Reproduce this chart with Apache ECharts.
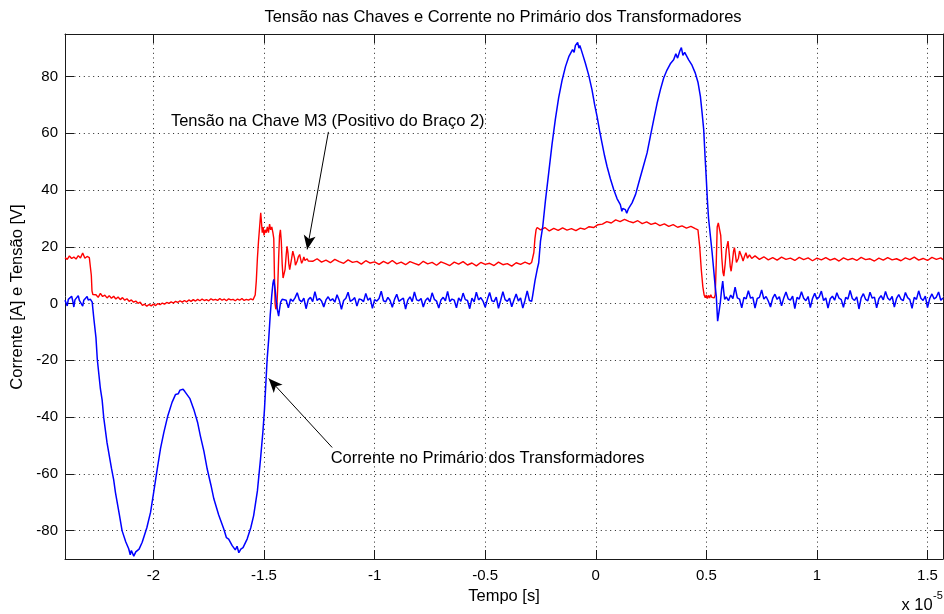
<!DOCTYPE html>
<html>
<head>
<meta charset="utf-8">
<script src="https://cdn.jsdelivr.net/npm/echarts@6/dist/echarts.min.js"></script>
<style>
  html, body { margin: 0; padding: 0; background: #fff; }
  #chart { width: 944px; height: 614px; }
</style>
</head>
<body>
<div id="chart"></div>
<script>
// Time axis in units of 1e-5 s
const xTicks = [-2, -1.5, -1, -0.5, 0, 0.5, 1, 1.5];
const yTicks = [-80, -60, -40, -20, 0, 20, 40, 60, 80];

// Tensão na chave M3 [V] : [t, v]
const tensao = [
  [-2.40,16.2],[-2.39,15.6],[-2.38,16.8],[-2.37,15.9],[-2.36,16.4],[-2.35,15.7],[-2.34,16.9],[-2.33,16.1],
  [-2.32,17.8],[-2.31,16.0],[-2.30,16.6],[-2.29,16.2],[-2.285,15.8],[-2.281,10],[-2.278,4.5],[-2.274,3.2],
  [-2.26,3.1],[-2.25,2.2],[-2.24,3.6],[-2.23,2.5],[-2.22,3.0],[-2.21,2.0],[-2.20,2.8],[-2.19,1.9],
  [-2.18,2.6],[-2.17,1.6],[-2.16,2.3],[-2.15,1.4],[-2.14,2.1],[-2.13,1.2],[-2.12,1.7],[-2.11,0.8],
  [-2.10,1.3],[-2.09,0.5],[-2.08,0.9],[-2.07,0.1],[-2.06,0.5],[-2.05,-0.6],[-2.04,-0.2],[-2.03,-0.9],
  [-2.02,-0.3],[-2.01,-0.8],[-2.00,-0.2],[-1.99,-0.7],[-1.98,0.0],[-1.97,-0.4],[-1.96,0.2],[-1.95,-0.2],
  [-1.94,0.4],[-1.93,0.1],[-1.92,0.6],[-1.91,0.2],[-1.90,0.8],[-1.89,0.4],[-1.88,1.0],[-1.87,0.5],
  [-1.86,1.1],[-1.85,0.6],[-1.84,1.3],[-1.83,0.8],[-1.82,1.4],[-1.81,0.9],[-1.80,1.5],[-1.79,1.0],
  [-1.78,1.6],[-1.77,1.1],[-1.76,1.4],[-1.75,1.0],[-1.74,1.7],[-1.73,1.2],[-1.72,1.5],[-1.71,1.1],
  [-1.70,1.8],[-1.69,1.2],[-1.68,1.6],[-1.67,1.0],[-1.66,1.7],[-1.65,1.3],[-1.64,1.5],[-1.63,1.0],
  [-1.62,1.6],[-1.61,1.2],[-1.60,1.8],[-1.59,1.1],[-1.58,1.5],[-1.57,1.2],[-1.56,1.7],[-1.55,1.3],
  [-1.545,2.0],[-1.54,3],[-1.535,8],[-1.53,16],[-1.525,22],[-1.52,27],[-1.515,32],[-1.512,29],
  [-1.508,25],[-1.504,27],[-1.50,24],[-1.495,26],[-1.49,25],[-1.485,27],[-1.48,25],[-1.475,28],
  [-1.47,26],[-1.465,27],[-1.46,25],[-1.456,23],[-1.453,10],[-1.45,0],[-1.447,-2],[-1.442,-1],
  [-1.438,6],[-1.434,16],[-1.43,24],[-1.426,26],[-1.422,22],[-1.418,14],[-1.414,9],[-1.41,8.5],
  [-1.405,12],[-1.40,17],[-1.396,20.2],[-1.392,18],[-1.388,14],[-1.384,12],[-1.38,12.5],[-1.375,16],
  [-1.37,18.5],[-1.366,19],[-1.362,16],[-1.358,13.5],[-1.354,13.2],[-1.35,15],[-1.345,16.5],[-1.339,17.3],
  [-1.334,15.5],[-1.33,14.2],[-1.325,15.1],[-1.32,16.4],[-1.315,15.2],[-1.31,14.6],[-1.305,15.8],[-1.30,15.0],
  [-1.28,14.9],[-1.26,15.8],[-1.24,14.6],[-1.22,15.3],[-1.20,14.4],[-1.18,15.6],[-1.16,14.8],[-1.14,14.2],
  [-1.12,15.4],[-1.10,14.5],[-1.08,14.9],[-1.06,13.9],[-1.04,15.1],[-1.02,14.3],[-1.00,14.7],[-0.98,13.8],
  [-0.96,14.9],[-0.94,14.1],[-0.92,15.2],[-0.90,14.0],[-0.88,14.6],[-0.86,13.7],[-0.84,14.8],[-0.82,14.2],
  [-0.80,13.6],[-0.78,14.9],[-0.76,14.0],[-0.74,14.5],[-0.72,13.5],[-0.70,14.7],[-0.68,14.1],[-0.66,13.4],
  [-0.64,14.6],[-0.62,13.9],[-0.60,14.8],[-0.58,13.6],[-0.56,14.3],[-0.54,13.3],[-0.52,14.5],[-0.50,13.8],
  [-0.48,14.2],[-0.46,13.4],[-0.44,14.6],[-0.42,13.7],[-0.40,14.1],[-0.38,13.2],[-0.36,14.4],[-0.34,13.8],
  [-0.32,14.6],[-0.30,13.9],[-0.29,14.5],[-0.285,14.8],[-0.28,18],[-0.275,23],[-0.27,26],[-0.265,26.8],
  [-0.25,26.0],[-0.23,26.8],[-0.21,25.6],[-0.19,26.5],[-0.17,25.8],[-0.15,26.7],[-0.13,25.9],[-0.11,26.4],
  [-0.09,25.7],[-0.07,26.6],[-0.05,26.2],[-0.03,27.1],[-0.01,26.8],[0.01,27.8],[0.03,28.0],[0.05,28.9],
  [0.07,28.4],[0.09,29.5],[0.11,28.9],[0.13,29.7],[0.15,29.0],[0.17,28.5],[0.19,29.2],[0.21,28.2],
  [0.23,28.8],[0.25,27.9],[0.27,28.4],[0.29,27.5],[0.31,28.1],[0.33,27.2],[0.35,27.8],[0.37,26.9],
  [0.39,27.4],[0.41,26.6],[0.43,27.2],[0.45,26.4],[0.462,26.0],[0.47,20],[0.477,12],[0.484,6],
  [0.49,3],[0.495,2.1],[0.50,3.0],[0.505,1.8],[0.51,2.9],[0.515,2.0],[0.52,3.1],[0.525,2.2],
  [0.53,2.8],[0.535,2.0],[0.54,3.0],[0.545,15],[0.549,27],[0.554,28.4],[0.56,28],[0.565,24],
  [0.57,16],[0.575,11],[0.579,9.7],[0.585,14],[0.59,19],[0.598,22],[0.604,17],[0.608,13],
  [0.612,11.4],[0.618,15],[0.623,18.5],[0.627,19.7],[0.632,17],[0.636,14.5],[0.639,13.8],[0.645,16],
  [0.65,18.5],[0.654,19],[0.66,16.5],[0.666,15],[0.672,16.5],[0.679,17.9],[0.686,16.0],[0.695,17.2],
  [0.705,15.9],[0.72,16.8],[0.74,15.6],[0.76,16.5],[0.78,15.4],[0.80,16.2],[0.82,15.3],[0.84,16.4],
  [0.86,15.6],[0.88,16.0],[0.90,15.2],[0.92,16.3],[0.94,15.5],[0.96,16.1],[0.98,15.1],[1.00,16.0],
  [1.02,15.4],[1.04,16.2],[1.06,15.3],[1.08,15.9],[1.10,15.0],[1.12,16.1],[1.14,15.4],[1.16,15.9],
  [1.18,15.2],[1.20,16.3],[1.22,15.5],[1.24,15.8],[1.26,15.0],[1.28,16.0],[1.30,15.3],[1.32,16.2],
  [1.34,15.4],[1.36,15.8],[1.38,15.1],[1.40,16.1],[1.42,15.5],[1.44,16.4],[1.46,15.3],[1.48,15.9],
  [1.50,15.2],[1.52,16.3],[1.54,15.6],[1.56,16.1],[1.57,15.5]
];

// Corrente no primário [A] : [t, i]
const corrente = [
  [-2.40,1.2],[-2.39,-0.8],[-2.385,1.5],[-2.38,1.1],[-2.37,2.6],[-2.365,1.0],[-2.36,-1.2],[-2.355,1.3],
  [-2.35,1.2],[-2.34,2.8],[-2.335,1.1],[-2.33,1.4],[-2.32,-0.9],[-2.315,1.2],[-2.31,1.0],[-2.30,2.5],
  [-2.295,1.3],[-2.29,1.1],[-2.285,1.5],[-2.28,1.2],[-2.277,0.5],[-2.27,-5],[-2.26,-12],[-2.254,-19.6],
  [-2.24,-30],[-2.232,-34],[-2.225,-40.1],[-2.21,-49],[-2.19,-58],[-2.18,-62],[-2.172,-66.5],[-2.155,-74],
  [-2.142,-80],[-2.125,-84],[-2.112,-86.4],[-2.105,-88.5],[-2.10,-87],[-2.089,-89],[-2.08,-87.5],[-2.072,-88],
  [-2.065,-86.5],[-2.051,-84.1],[-2.03,-79],[-2.013,-73.5],[-1.998,-66],[-1.983,-58.3],[-1.968,-51],[-1.953,-45.4],
  [-1.935,-39.5],[-1.916,-34.8],[-1.90,-32],[-1.888,-31.8],[-1.88,-30.5],[-1.872,-31.2],[-1.866,-30.2],[-1.858,-31],
  [-1.85,-31.5],[-1.835,-33.5],[-1.818,-37.2],[-1.80,-42],[-1.788,-46.6],[-1.772,-52],[-1.757,-58.3],[-1.74,-64],
  [-1.727,-68.8],[-1.705,-74.5],[-1.682,-79.4],[-1.67,-82.5],[-1.66,-83],[-1.644,-85.3],[-1.63,-86.8],[-1.622,-85.5],
  [-1.614,-87.8],[-1.605,-86.5],[-1.595,-86],[-1.576,-82.9],[-1.56,-79],[-1.547,-74.7],[-1.53,-66],[-1.516,-54.8],
  [-1.505,-45],[-1.498,-37.2],[-1.486,-19.6],[-1.479,-12.6],[-1.472,-4],[-1.465,3],[-1.46,7],[-1.456,8.5],
  [-1.45,5],[-1.445,1],[-1.44,-2],[-1.434,-4.4],[-1.43,-2],[-1.425,0.5],[-1.418,1.5],[-1.41,1.0],
  [-1.40,1.2],[-1.39,-1.5],[-1.38,1.6],[-1.37,0.8],[-1.36,2.0],[-1.35,3.8],[-1.34,1.3],[-1.33,0.6],
  [-1.32,1.9],[-1.31,-1.8],[-1.30,1.4],[-1.29,2.2],[-1.28,0.7],[-1.27,4.2],[-1.26,1.1],[-1.25,1.8],
  [-1.24,0.9],[-1.23,-1.2],[-1.22,1.3],[-1.21,2.4],[-1.20,1.0],[-1.19,1.7],[-1.18,0.5],[-1.17,3.1],
  [-1.16,1.2],[-1.15,-2.0],[-1.14,1.1],[-1.13,1.9],[-1.12,4.0],[-1.11,0.8],[-1.10,1.3],[-1.09,2.1],
  [-1.08,-0.9],[-1.07,1.6],[-1.06,1.4],[-1.05,0.7],[-1.04,3.6],[-1.03,1.2],[-1.02,2.0],[-1.01,-1.7],
  [-1.00,1.4],[-0.99,0.9],[-0.98,1.8],[-0.97,4.4],[-0.96,1.0],[-0.95,0.6],[-0.94,2.2],[-0.93,1.1],
  [-0.92,-1.3],[-0.91,1.5],[-0.90,3.3],[-0.89,0.8],[-0.88,1.4],[-0.87,1.9],[-0.86,-1.9],[-0.85,1.2],
  [-0.84,2.4],[-0.83,0.7],[-0.82,4.1],[-0.81,1.3],[-0.80,1.0],[-0.79,1.8],[-0.78,-1.2],[-0.77,1.1],
  [-0.76,2.0],[-0.75,0.6],[-0.74,3.8],[-0.73,1.5],[-0.72,0.9],[-0.71,-1.6],[-0.70,1.3],[-0.69,2.2],
  [-0.68,1.0],[-0.67,4.3],[-0.66,0.7],[-0.65,1.6],[-0.64,1.2],[-0.63,-1.5],[-0.62,2.0],[-0.61,0.8],
  [-0.60,3.7],[-0.59,1.4],[-0.58,1.1],[-0.57,-1.8],[-0.56,1.9],[-0.55,0.6],[-0.54,4.0],[-0.53,1.3],
  [-0.52,2.1],[-0.51,0.9],[-0.50,-1.3],[-0.49,1.5],[-0.48,3.9],[-0.47,1.0],[-0.46,0.7],[-0.45,2.3],
  [-0.44,-1.7],[-0.43,1.2],[-0.42,4.2],[-0.41,1.4],[-0.40,0.8],[-0.39,1.9],[-0.38,-1.1],[-0.37,1.3],
  [-0.36,3.4],[-0.35,0.9],[-0.34,2.0],[-0.33,-1.6],[-0.32,1.2],[-0.31,4.5],[-0.30,1.1],[-0.29,0.8],
  [-0.285,3],[-0.275,8],[-0.265,12],
  [-0.258,14.4],[-0.25,22],[-0.24,27],[-0.228,36],[-0.213,46],[-0.198,56],[-0.183,64.8],[-0.168,72.5],
  [-0.152,78.8],[-0.137,83.5],[-0.122,87],[-0.105,89.5],[-0.098,88.5],[-0.092,91],[-0.082,92],[-0.076,90],
  [-0.072,91],[-0.06,88],[-0.047,84.7],[-0.032,80.5],[-0.017,75.3],[-0.005,70],[0.006,65.9],[0.017,61],
  [0.028,56.6],[0.04,52],[0.051,48.3],[0.066,44],[0.081,40.2],[0.096,37],[0.111,34.9],[0.118,32.5],
  [0.122,33.5],[0.134,33.1],[0.14,31.8],[0.148,33.5],[0.164,35.5],[0.18,38.5],[0.194,42.5],[0.212,47.5],
  [0.232,53.1],[0.247,59],[0.262,64.8],[0.277,70.5],[0.292,75.3],[0.307,79.5],[0.322,82.3],[0.337,84.5],
  [0.352,85.9],[0.362,88],[0.37,86.5],[0.38,89],[0.387,90.2],[0.394,87.5],[0.402,88.5],[0.42,85.9],
  [0.435,84],[0.45,81.2],[0.462,78],[0.473,73],[0.481,67],[0.488,61.3],[0.494,52],[0.499,45],
  [0.505,36],[0.51,30],[0.518,24],[0.526,18],[0.533,12],[0.54,6],[0.545,2.6],[0.551,-6.2],
  [0.557,-3],[0.563,0.3],[0.569,5],[0.574,7.9],[0.579,4],[0.583,1.5],
  [0.59,2.4],[0.60,1.0],[0.61,3.0],[0.62,1.8],[0.63,5.8],[0.64,2.0],[0.65,1.6],[0.66,-1.5],
  [0.67,2.2],[0.68,1.7],[0.69,4.5],[0.70,1.9],[0.71,2.3],[0.72,-1.6],[0.73,1.8],[0.74,2.2],
  [0.75,4.8],[0.76,1.6],[0.77,2.5],[0.78,0.9],[0.79,-1.2],[0.80,1.9],[0.81,3.3],[0.82,1.5],
  [0.83,2.4],[0.84,-0.8],[0.85,2.0],[0.86,4.1],[0.87,1.7],[0.88,1.2],[0.89,2.6],[0.90,-1.8],
  [0.91,2.2],[0.92,1.6],[0.93,4.2],[0.94,1.9],[0.95,1.0],[0.96,2.5],[0.97,-1.4],[0.98,1.8],
  [0.99,3.6],[1.00,1.5],[1.01,2.3],[1.02,4.4],[1.03,1.1],[1.04,2.0],[1.05,-1.6],[1.06,1.7],
  [1.07,2.6],[1.08,1.2],[1.09,3.8],[1.10,1.9],[1.11,1.4],[1.12,-1.3],[1.13,2.2],[1.14,1.6],
  [1.15,4.6],[1.16,1.8],[1.17,1.1],[1.18,2.4],[1.19,-1.9],[1.20,2.0],[1.21,3.5],[1.22,1.5],
  [1.23,1.0],[1.24,4.0],[1.25,1.9],[1.26,2.3],[1.27,-1.5],[1.28,1.7],[1.29,2.8],[1.30,1.3],
  [1.31,4.3],[1.32,2.0],[1.33,1.2],[1.34,2.5],[1.35,-1.2],[1.36,1.8],[1.37,3.2],[1.38,1.6],
  [1.39,1.0],[1.40,3.9],[1.41,2.1],[1.42,1.4],[1.43,-1.7],[1.44,2.2],[1.45,1.5],[1.46,4.5],
  [1.47,1.9],[1.48,1.1],[1.49,2.6],[1.50,-1.4],[1.51,1.8],[1.52,3.4],[1.53,1.6],[1.54,2.3],
  [1.55,4.1],[1.56,1.2],[1.57,2.0]
];

// Annotation arrows: caption anchor, arrow start and arrow tip, in data units
const noteTensao = { text: 'Tensão na Chave M3 (Positivo do Braço 2)', at: [-1.212, 64.1], from: [-1.209, 60.5], to: [-1.305, 19.1] };
const noteCorrente = { text: 'Corrente no Primário dos Transformadores', at: [-0.489, -54.5], from: [-1.192, -50.7], to: [-1.479, -26.4] };

const X_MIN = -2.4, X_MAX = 1.57, Y_MIN = -90, Y_MAX = 95;
const FONT = '"Liberation Sans", Arial, Helvetica, sans-serif';
const AX = '#1a1a1a';

const chart = echarts.init(document.getElementById('chart'), null, { renderer: 'canvas' });

function xAxisCfg(pos, labels) {
  return {
    type: 'value', position: pos, min: X_MIN, max: X_MAX,
    axisLine: { show: true, onZero: false, lineStyle: { color: AX, width: 1 } },
    axisTick: { show: true, inside: true, length: 9, customValues: xTicks, lineStyle: { color: AX } },
    axisLabel: { show: labels, customValues: xTicks, margin: 9, color: '#000', fontSize: 15, fontFamily: FONT,
      formatter: v => String(v) },
    splitLine: { show: labels, lineStyle: { color: '#222', width: 1, type: [1, 3.7] } }
  };
}
function yAxisCfg(pos, labels) {
  return {
    type: 'value', position: pos, min: Y_MIN, max: Y_MAX,
    axisLine: { show: true, onZero: false, lineStyle: { color: AX, width: 1 } },
    axisTick: { show: true, inside: true, length: 9, customValues: yTicks, lineStyle: { color: AX } },
    axisLabel: { show: labels, customValues: yTicks, margin: 7, color: '#000', fontSize: 15, fontFamily: FONT,
      formatter: v => String(v) },
    splitLine: { show: labels, lineStyle: { color: '#222', width: 1, type: [1, 3.7] } }
  };
}

const arrowStyle = { color: '#000', width: 1, type: 'solid' };

chart.setOption({
  animation: false,
  backgroundColor: '#fff',
  grid: { left: 65, right: 1, top: 34, bottom: 55 },
  xAxis: [xAxisCfg('bottom', true), xAxisCfg('top', false)],
  yAxis: [yAxisCfg('left', true), yAxisCfg('right', false)],
  series: [
    {
      name: 'Tensão', type: 'line', data: tensao, showSymbol: false, z: 3,
      lineStyle: { color: '#ff0000', width: 1.4 },
      markLine: {
        silent: true, animation: false,
        symbol: ['none', 'arrow'], symbolSize: [9, 14],
        label: { show: false },
        lineStyle: arrowStyle,
        data: [
          [{ coord: noteTensao.from }, { coord: noteTensao.to }],
          [{ coord: noteCorrente.from }, { coord: noteCorrente.to }]
        ]
      }
    },
    {
      name: 'Corrente', type: 'line', data: corrente, showSymbol: false, z: 4,
      lineStyle: { color: '#0000ff', width: 1.5 }
    }
  ]
});

// Texts: title, axis titles, exponent and annotation captions
const toPx = p => chart.convertToPixel({ gridIndex: 0 }, p);
const t1 = toPx(noteTensao.at), t2 = toPx(noteCorrente.at);
const txt = (x, y, text, extra) => ({
  type: 'text', x, y, silent: true,
  style: Object.assign({ text, fill: '#000', font: '16.5px ' + FONT, textAlign: 'center', textVerticalAlign: 'middle' }, extra || {})
});
chart.setOption({
  graphic: [
    txt(503, 17, 'Tensão nas Chaves e Corrente no Primário dos Transformadores'),
    txt(504, 596, 'Tempo [s]'),
    Object.assign(txt(17, 297, 'Corrente [A] e Tensão [V]'), { rotation: Math.PI / 2 }),
    txt(917, 605, 'x 10'),
    txt(938, 596, '-5', { font: '11px ' + FONT }),
    txt(t1[0], t1[1], noteTensao.text),
    txt(t2[0], t2[1], noteCorrente.text)
  ]
});
</script>
</body>
</html>
